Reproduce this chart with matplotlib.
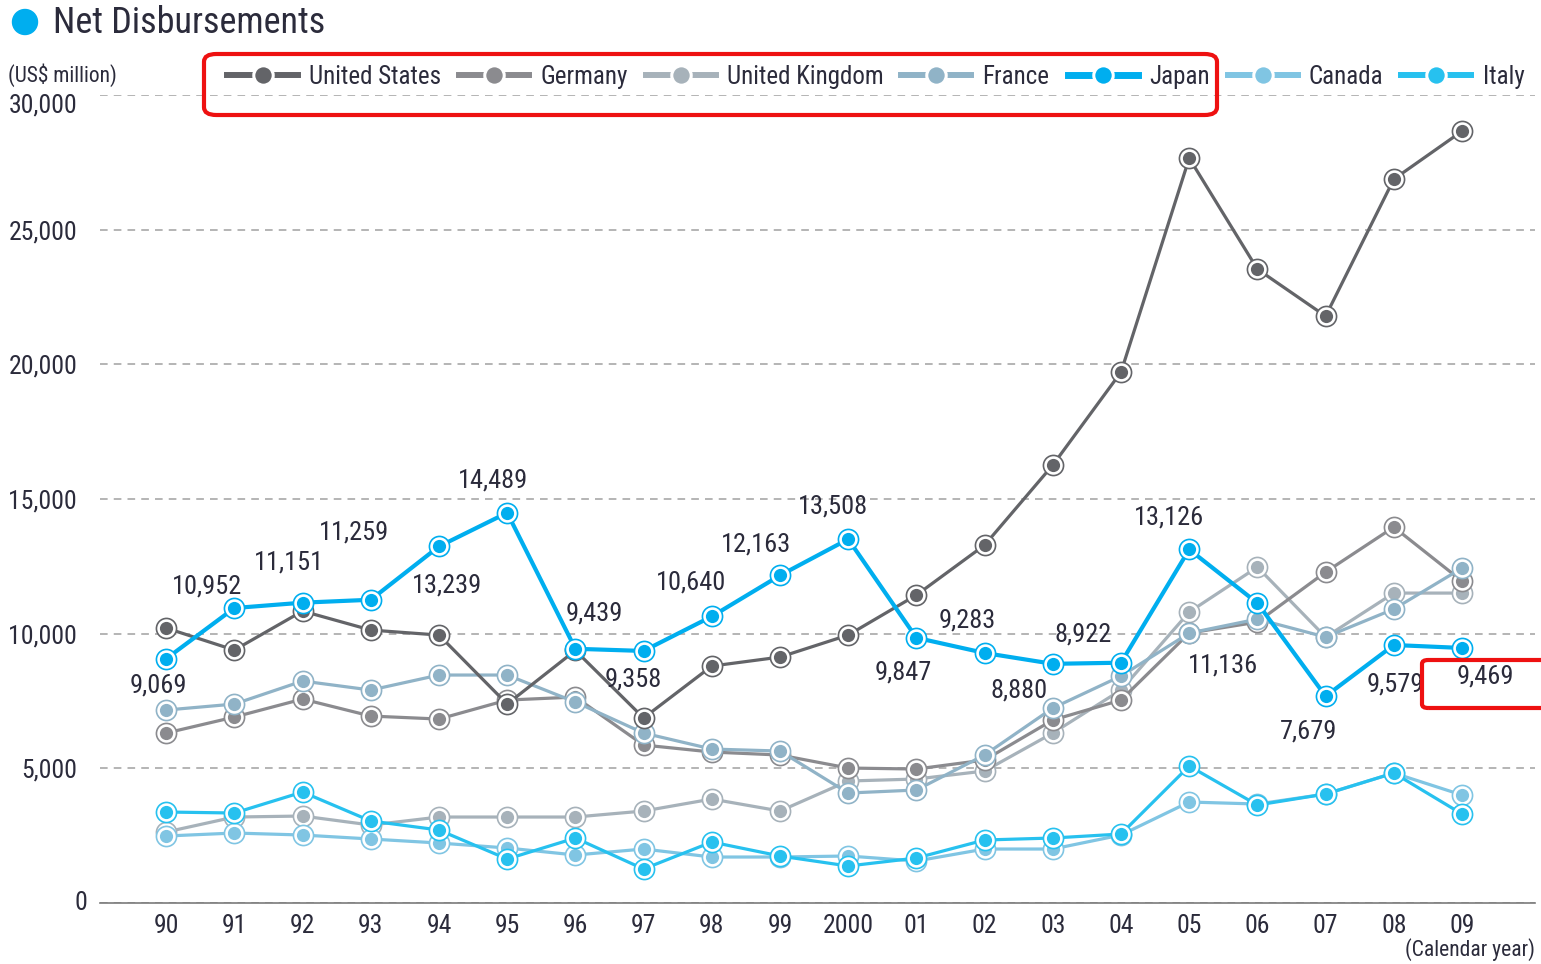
# Net disbursements of ODA by G7 country, 1990-2009

import matplotlib
matplotlib.use("Agg")
from matplotlib import pyplot as plt
from matplotlib import font_manager as fm
from matplotlib.patches import FancyBboxPatch, Ellipse

# pick a condensed face like the original (Myriad Condensed), fall back to Liberation Sans
available = {f.name for f in fm.fontManager.ttflist}
FONT = "Liberation Sans"
for cand in ["Roboto Condensed", "PT Sans Narrow", "Open Sans Condensed", "Fira Sans Condensed",
             "Archivo Narrow", "Liberation Sans Narrow"]:
    if cand in available:
        FONT = cand
        break
plt.rcParams['font.family'] = [FONT, 'DejaVu Sans']
SCALE = 1.0 if FONT != "Liberation Sans" else 0.85

# DATA (US$ million)
years = ["90", "91", "92", "93", "94", "95", "96", "97", "98", "99",
         "2000", "01", "02", "03", "04", "05", "06", "07", "08", "09"]

united_states = [10208, 9391, 10839, 10134, 9948, 7387, 9377, 6870, 8797, 9131,
                 9948, 11433, 13289, 16259, 19711, 27654, 23534, 21789, 26875, 28657]
germany = [6310, 6904, 7572, 6941, 6830, 7535, 7647, 5865, 5605, 5494,
           5011, 4974, 5308, 6793, 7535, 10022, 10430, 12287, 13957, 11952]
united_kingdom = [2636, 3192, 3229, 2895, 3192, 3192, 3192, 3415, 3860, 3415,
                  4529, 4603, 4900, 6310, 7907, 10802, 12472, 9874, 11507, 11507]
france = [7164, 7387, 8241, 7907, 8464, 8464, 7461, 6310, 5716, 5642,
          4083, 4195, 5494, 7238, 8426, 10022, 10542, 9874, 10913, 12435]
japan = [9069, 10952, 11151, 11259, 13239, 14489, 9439, 9358, 10640, 12163,
         13508, 9847, 9283, 8880, 8922, 13126, 11136, 7679, 9579, 9469]
canada = [2487, 2598, 2524, 2376, 2227, 2042, 1782, 2004, 1707, 1707,
          1745, 1559, 2004, 2004, 2524, 3749, 3675, 4046, 4826, 4009]
italy = [3378, 3341, 4120, 3044, 2710, 1633, 2413, 1262, 2264, 1745,
         1373, 1670, 2339, 2413, 2561, 5085, 3638, 4046, 4826, 3304]

y_ticks = [0, 5000, 10000, 15000, 20000, 25000, 30000]

# where each Japan label sits relative to its point: (dx index, dy value)
japan_label_offsets = [(-0.12, -1000), (-0.4, 800), (-0.2, 1500), (-0.25, 2480), (0.12, -1450),
                       (-0.2, 1200), (0.28, 1300), (-0.15, -1050), (-0.3, 1250), (-0.35, 1150),
                       (-0.22, 1200), (-0.2, -1300), (-0.25, 1220), (-0.5, -1000), (-0.55, 1050),
                       (-0.3, 1180), (-0.5, -2300), (-0.25, -1300), (0.02, -1450), (0.34, -1070)]

series = [
    ("United Kingdom", united_kingdom, "#a7b2ba", 2.3),
    ("Canada", canada, "#80c5e3", 2.3),
    ("Germany", germany, "#8b8b8f", 2.3),
    ("Italy", italy, "#27c1ef", 2.3),
    ("France", france, "#90b3c7", 2.3),
    ("United States", united_states, "#636468", 2.3),
    ("Japan", japan, "#00aeef", 3.0),
]
legend_order = ["United States", "Germany", "United Kingdom", "France", "Japan", "Canada", "Italy"]
text_color = "#2b2b3b"

fig = plt.figure(figsize=(15.41, 9.64), dpi=100)
ax = fig.add_axes([100 / 1541, 61 / 964, 1435 / 1541, 808 / 964])

x = list(range(len(years)))
handles = {}
for z, (name, values, color, lw) in enumerate(series):
    ax.plot(x, values, color=color, lw=lw, zorder=2 + z, solid_capstyle="round")
    ax.plot(x, values, ls="none", marker="o", ms=14.5, mfc="white", mec=color, mew=1.2, zorder=2 + z)
    ax.plot(x, values, ls="none", marker="o", ms=9.5, mfc=color, mec="none", zorder=2 + z)
    handles[name] = ax.plot([], [], color=color, lw=lw + 2, marker="o", ms=14, mfc=color,
                            mec="white", mew=2.2)[0]

for i, v in enumerate(japan):
    dx, dy = japan_label_offsets[i]
    ax.text(i + dx, v + dy, f"{v:,}", ha="center", va="center", fontsize=19 * SCALE,
            color=text_color, zorder=20)

ax.set_xlim(-0.97, 20.07)
ax.set_ylim(0, 30000)
ax.set_yticks(y_ticks)
ax.set_yticklabels([""] + [f"{t:,}" for t in y_ticks[1:-1]] + [""])
ax.set_xticks(x)
ax.set_xticklabels(years)
ax.tick_params(axis="both", length=0, labelsize=18.5 * SCALE, colors=text_color)
ax.tick_params(axis="y", pad=16.5)
ax.tick_params(axis="x", pad=8)
# the end labels of the value axis sit apart from the others
ax.annotate("0", xy=(0, 0), xycoords=ax.get_yaxis_transform(), xytext=(-9.5, 0),
            textcoords="offset points", ha="right", va="center", fontsize=18.5 * SCALE, color=text_color)
ax.annotate(f"{y_ticks[-1]:,}", xy=(0, y_ticks[-1]), xycoords=ax.get_yaxis_transform(),
            xytext=(-16.5, -7.5), textcoords="offset points", ha="right", va="center",
            fontsize=18.5 * SCALE, color=text_color)
ax.grid(axis="y", ls=(0, (5, 4)), color="#a0a0a0", lw=1.1)
for s in ["left", "right", "top"]:
    ax.spines[s].set_visible(False)
ax.spines["bottom"].set_color("#7a7a7a")
ax.spines["bottom"].set_linewidth(1.2)

fig.text(53 / 1541, 1 - 23 / 964, "Net Disbursements", fontsize=26 * SCALE, color=text_color, va="center")
fig.patches.append(Ellipse((25 / 1541, 1 - 22 / 964), 25 / 1541, 25 / 964, transform=fig.transFigure,
                           color="#00aeef"))
fig.text(8 / 1541, 1 - 75 / 964, "(US$ million)", fontsize=15.5 * SCALE, color=text_color, va="center")
fig.text(1535 / 1541, 1 - 950 / 964, "(Calendar year)", fontsize=15.5 * SCALE, color=text_color,
         va="center", ha="right")

fig.legend([handles[n] for n in legend_order], legend_order, loc="center left",
           bbox_to_anchor=(210 / 1541, 1 - 77 / 964), ncol=7, frameon=False, fontsize=18 * SCALE,
           handlelength=2.8, handletextpad=0.45, columnspacing=0.72, labelcolor=text_color,
           borderpad=0.2)

# red highlight boxes
fig.patches.append(FancyBboxPatch((204 / 1541, 1 - 115 / 964), 1013 / 1541, 61 / 964,
                                  boxstyle="round,pad=0,rounding_size=0.008", transform=fig.transFigure,
                                  fill=False, ec="#ee1111", lw=3))
fig.patches.append(FancyBboxPatch((1422 / 1541, 1 - 708 / 964), 140 / 1541, 48 / 964,
                                  boxstyle="round,pad=0,rounding_size=0.004", transform=fig.transFigure,
                                  fill=False, ec="#ee1111", lw=3))

fig.savefig("out.png", dpi=100)
